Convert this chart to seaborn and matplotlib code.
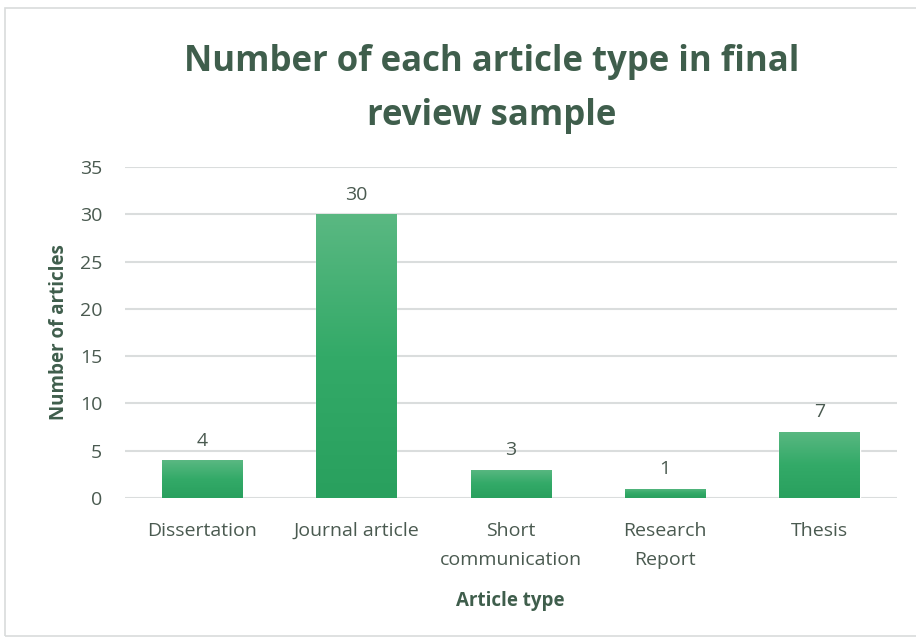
import numpy as np
import pandas as pd
import matplotlib
matplotlib.use("Agg")
import matplotlib.pyplot as plt
from matplotlib.patches import Rectangle
from matplotlib.colors import LinearSegmentedColormap
import seaborn as sns

categories = ["Dissertation", "Journal article", "Short\ncommunication", "Research\nReport", "Thesis"]
counts = [4, 30, 3, 1, 7]
yticks = [0, 5, 10, 15, 20, 25, 30, 35]

df = pd.DataFrame({"type": categories, "n": counts})

sns.set_theme(style="white")
plt.rcParams["font.family"] = ["Open Sans", "DejaVu Sans"]

fig = plt.figure(figsize=(9.16, 6.39), dpi=100)
fig.patch.set_facecolor("white")
fig.patches.append(Rectangle((5/916, 3/639), 1.2, 628/639, transform=fig.transFigure,
                             fill=False, edgecolor="#d9dcdc", linewidth=1.2))
ax = fig.add_axes([0.136, 0.2207, 0.843, 0.518])

sns.barplot(data=df, x="type", y="n", color="#2ea563", width=0.52, ax=ax,
            saturation=1, zorder=3)

cmap = LinearSegmentedColormap.from_list("g", ["#29a05e", "#33aa68", "#5ab882"])
grad = np.linspace(0, 1, 256).reshape(-1, 1)
for p in ax.patches:
    x0, y0 = p.get_x(), p.get_y()
    w, h = p.get_width(), p.get_height()
    im = ax.imshow(grad, cmap=cmap, aspect="auto", origin="lower",
                   extent=[x0, x0 + w, y0, y0 + h], zorder=4)
    im.set_clip_path(p)
    p.set_facecolor("none")

ax.set_xlim(-0.5, len(categories) - 0.5)
ax.set_ylim(0, 35)
ax.set_yticks(yticks)
ax.set_xticks(range(len(categories)))
ax.set_xticklabels(categories, linespacing=1.8)
ax.yaxis.grid(True, color="#dadddd", linewidth=1.5, zorder=0)
ax.set_axisbelow(True)
for s in ax.spines.values():
    s.set_visible(False)
ax.tick_params(axis="both", length=0, labelsize=14, colors="#4a5a50")
ax.tick_params(axis="x", pad=17)
ax.tick_params(axis="y", pad=16)

for i, v in enumerate(counts):
    ax.text(i, v + 1.1, str(v), ha="center", va="bottom", fontsize=14, color="#4a5a50")

ax.set_xlabel("Article type", fontsize=13.5, fontweight="bold", color="#3f5e4c", labelpad=16)
ax.set_ylabel("Number of articles", fontsize=13.5, fontweight="bold", color="#3f5e4c", labelpad=8)

fig.text(0.537, 0.861, "Number of each article type in final\nreview sample", ha="center", va="center",
         fontsize=25, fontweight="bold", color="#3f5e4c", linespacing=1.65)

fig.savefig("out.png", dpi=100)
